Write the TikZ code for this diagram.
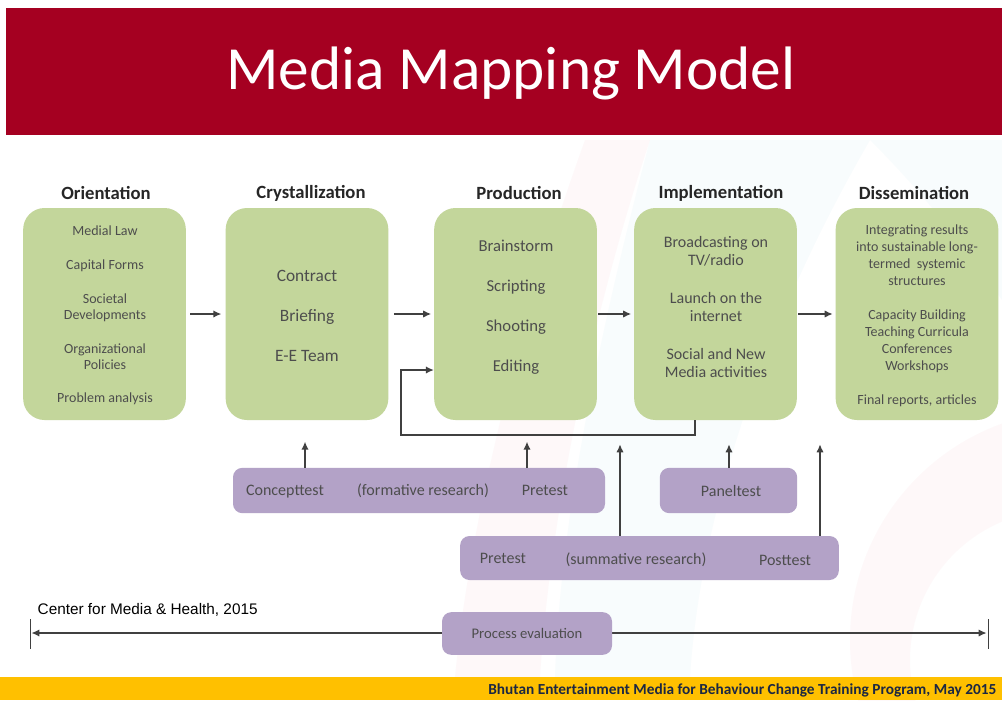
\documentclass[tikz,border=0pt]{standalone}
\usepackage{fontspec}
\setmainfont{Carlito}
\newfontfamily\arialfont{Liberation Sans}
\usetikzlibrary{arrows.meta}

\definecolor{titlered}{HTML}{A50021}
\definecolor{stagegreen}{HTML}{C3D69B}
\definecolor{testpurple}{HTML}{B3A2C7}
\definecolor{boxtext}{HTML}{4D4D4D}
\definecolor{headtext}{HTML}{262626}
\definecolor{linegrey}{HTML}{404040}
\definecolor{footeryellow}{HTML}{FFC000}
\definecolor{footertext}{HTML}{1C2742}
\definecolor{swooshred}{HTML}{E8546A}
\definecolor{swooshblue}{HTML}{5BB8D8}

\tikzset{
  stage/.style={fill=stagegreen, rounded corners=16pt, minimum width=122pt,
    minimum height=159pt, inner sep=0pt},
  stagehead/.style={font=\fontsize{14}{16}\selectfont\bfseries, text=headtext},
  stagetext/.style={align=center, text=boxtext},
  testbox/.style={fill=testpurple, rounded corners=7pt, inner sep=0pt},
  testtext/.style={text=boxtext, font=\fontsize{12}{14}\selectfont},
  conn/.style={draw=linegrey, line width=1.1pt, -{Latex[length=6pt,width=5.5pt]}},
  up/.style={conn, shorten >=16pt},
}

\begin{document}
\begin{tikzpicture}[x=0.75pt, y=-0.75pt]
  \useasboundingbox (0,0) rectangle (1002,700);
  \fill[white] (0,0) rectangle (1002,700);

  % faint swooshes in the background
  \fill[swooshred, opacity=0.035] (585,140) .. controls (520,320) and (470,520) .. (455,677)
    -- (540,677) .. controls (550,520) and (590,320) .. (650,140) -- cycle;
  \fill[swooshblue, opacity=0.04] (650,140) .. controls (600,330) and (560,520) .. (555,677)
    -- (690,677) .. controls (700,520) and (760,330) .. (870,140) -- cycle;
  \fill[swooshblue, opacity=0.04] (870,140) -- (1002,140) -- (1002,300) .. controls (960,240) and (920,190) .. (870,140);
  \fill[swooshred, opacity=0.035, even odd rule] (1080,640) circle (230) (1060,660) circle (150);

  % title band
  \fill[titlered] (6,8) rectangle (1002,135);
  \node[text=white, font=\fontsize{46}{54}\selectfont] (title) at (511,73) {Media Mapping Model};

  % stages
  \node[stage] (orient) at (104.5,314) {};
  \node[stage] (cryst) at (307,314) {};
  \node[stage] (prod) at (515.5,314) {};
  \node[stage] (impl) at (715.5,314) {};
  \node[stage] (dissem) at (917,314) {};

  \node[stagehead] (orienthead) at (106,193) {Orientation};
  \node[stagehead] (crysthead) at (311,193) {Crystallization};
  \node[stagehead] (prodhead) at (519,193) {Production};
  \node[stagehead] (implhead) at (721,193) {Implementation};
  \node[stagehead] (dissemhead) at (914,193) {Dissemination};

  \node[stagetext, font=\fontsize{10.5}{12}\selectfont] (orienttext) at (105,315.5)
    {Medial Law\\[13.5pt] Capital Forms\\[13.5pt] Societal\\ Developments\\[13.5pt]
     Organizational\\ Policies\\[13pt] Problem analysis};
  \node[stagetext, font=\fontsize{13}{16}\selectfont] (crysttext) at (307,315.5)
    {Contract\\[14pt] Briefing\\[14pt] E-E Team};
  \node[stagetext, font=\fontsize{12.5}{15}\selectfont] (prodtext) at (516,307.5)
    {Brainstorm\\[15pt] Scripting\\[15pt] Shooting\\[15pt] Editing};
  \node[stagetext, font=\fontsize{12}{13.5}\selectfont] (impltext) at (716,307)
    {Broadcasting on\\ TV/radio\\[15pt] Launch on the\\ internet\\[15pt]
     Social and New\\ Media activities};
  \node[stagetext, font=\fontsize{10.5}{12.75}\selectfont] (dissemtext) at (917,315.5)
    {Integrating results\\ into sustainable long-\\ termed\ \ systemic\\ structures\\[12.75pt]
     Capacity Building\\ Teaching Curricula\\ Conferences\\ Workshops\\[12.75pt]
     Final reports, articles};

  % main flow
  \draw[conn] (orient.east) ++(4,0) -- ([xshift=-3pt]cryst.west);
  \draw[conn] ([xshift=4pt]cryst.east) -- ([xshift=-2pt]prod.west);
  \draw[conn] ([xshift=1pt]prod.east) -- ([xshift=-2pt]impl.west);
  \draw[conn] ([xshift=1pt]impl.east) -- ([xshift=-2pt]dissem.west);

  % feedback from implementation back to production
  \coordinate (loopA) at (695,435);
  \coordinate (loopB) at (401,370);
  \draw[conn] (impl.south -| loopA) -- (loopA) -| (loopB) -- (prod.west |- loopB);

  % research boxes
  \node[testbox, minimum width=279pt, minimum height=34pt] (formative) at (419,490.5) {};
  \node[testtext] (concept) at (285,492) {Concepttest};
  \node[testtext] (formlabel) at (423,490.5) {(formative research)};
  \node[testtext] (prepre) at (545,490.5) {Pretest};

  \node[testbox, minimum width=103pt, minimum height=34pt] (panel) at (728.5,490.5) {};
  \node[testtext] (paneltext) at (731,491) {Paneltest};

  \node[testbox, minimum width=284pt, minimum height=33pt] (summative) at (649.5,558) {};
  \node[testtext] (sumpre) at (503,558.5) {Pretest};
  \node[testtext] (sumlabel) at (636,560) {(summative research)};
  \node[testtext] (post) at (785,560) {Posttest};

  \coordinate (upA) at (305,440);
  \coordinate (upB) at (527,440);
  \coordinate (upC) at (620,440);
  \coordinate (upD) at (729,440);
  \coordinate (upE) at (820,440);
  \draw[up] (formative.north -| upA) -- (cryst.south -| upA);
  \draw[up] (formative.north -| upB) -- (prod.south -| upB);
  \draw[up, shorten >=18pt] (summative.north -| upC) -- (prod.south -| upC);
  \draw[up, shorten >=18pt] (panel.north -| upD) -- (impl.south -| upD);
  \draw[up, shorten >=18pt] (summative.north -| upE) -- (dissem.south -| upE);

  % process evaluation time line
  \node[font=\arialfont\fontsize{11.5}{13}\selectfont, anchor=west] (credit) at (33,610)
    {Center for Media \& Health, 2015};
  \coordinate (tlL) at (30,633);
  \coordinate (tlR) at (988,633);
  \draw[linegrey, line width=0.6pt] (tlL) ++(0,-14) -- ++(0,30);
  \draw[linegrey, line width=0.6pt] (tlR) ++(0,-14) -- ++(0,30);
  \draw[conn, line width=1.3pt] (527,633) -- ([xshift=-1pt]tlR);
  \draw[conn, line width=1.3pt] (527,633) -- ([xshift=1pt]tlL);
  \node[testbox, minimum width=127.5pt, minimum height=32pt] (process) at (527,633.5) {};
  \node[text=boxtext, font=\fontsize{11}{13}\selectfont] (processtext) at (527,633.5) {Process evaluation};

  % footer
  \fill[footeryellow] (0,677) rectangle (1002,700);
  \node[anchor=east, text=footertext, font=\fontsize{11.5}{13}\selectfont\bfseries] (footer) at (1001,690)
    {Bhutan Entertainment Media for Behaviour Change Training Program, May 2015};
\end{tikzpicture}
\end{document}
